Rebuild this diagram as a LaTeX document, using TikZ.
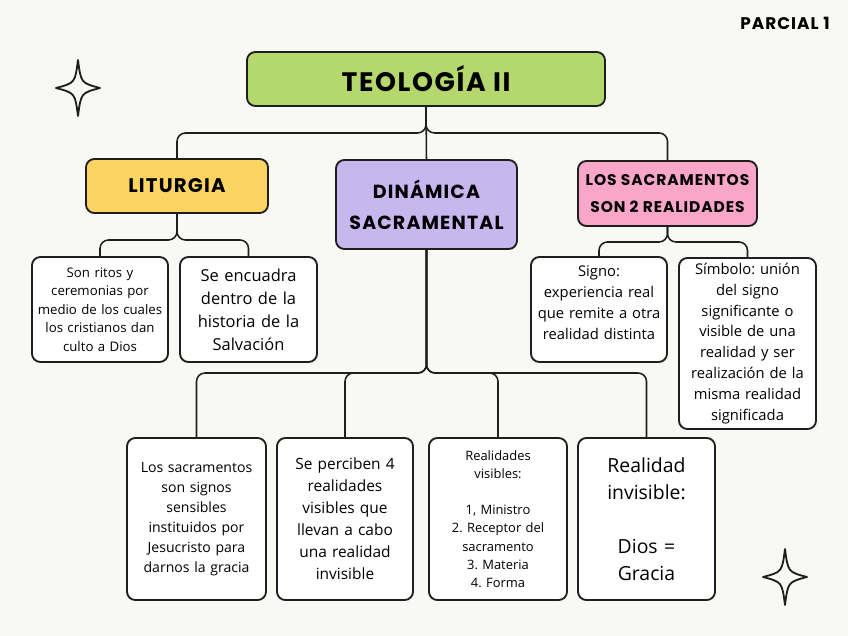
\documentclass[tikz,border=0pt]{standalone}
\usepackage{fontspec}
\setmainfont{Open Sans}
\newfontfamily\headfont[LetterSpace=6]{Poppins}
\newcommand{\fs}[2]{\fontsize{#1}{#2}\selectfont}
\frenchspacing

\definecolor{paper}{HTML}{F8F8F5}
\definecolor{teogreen}{HTML}{B4D76E}
\definecolor{lityellow}{HTML}{FCD462}
\definecolor{dinlilac}{HTML}{C8B6EE}
\definecolor{sacpink}{HTML}{F9A6C8}
\definecolor{ink}{HTML}{1E1E1E}

\tikzset{
  headbox/.style={draw=ink, line width=1.3pt, rounded corners=6pt, align=center,
                  inner sep=2pt, font=\headfont\bfseries},
  textbox/.style={draw=ink, line width=1.3pt, rounded corners=6pt, fill=white,
                  align=center, inner sep=0pt, text width=3.2cm},
  link/.style={draw=ink, line width=1.1pt, rounded corners=6pt},
  sparkle/.style={draw=ink, line width=1.3pt, line join=round}
}

\begin{document}
\begin{tikzpicture}[x=0.025cm, y=-0.025cm]
    % fondo 848 x 636 px (1 px = 0.025 cm)
    \fill[paper] (0,0) rectangle (848,636);
    \useasboundingbox (0,0) rectangle (848,636);

    \node[font=\headfont\bfseries\fs{12}{14}] (parcial) at (785,23) {PARCIAL 1};

    % ===== nivel 1: titulo =====
    \node[headbox, fill=teogreen, minimum width=8.95cm, minimum height=1.35cm,
          font=\headfont\bfseries\fs{19}{22}] (teo) at (426,79) {TEOLOGÍA II};

    % ===== nivel 2: tres ramas =====
    \node[headbox, fill=lityellow, minimum width=4.55cm, minimum height=1.35cm,
          font=\headfont\bfseries\fs{14}{16}] (lit) at (177,186) {LITURGIA};
    \node[headbox, fill=dinlilac, minimum width=4.525cm, minimum height=2.225cm,
          font=\headfont\bfseries\fs{13.5}{22}] (din) at (426.5,204.5) {DINÁMICA\\SACRAMENTAL};
    \node[headbox, fill=sacpink, minimum width=4.475cm, minimum height=1.625cm,
          font=\headfont\bfseries\fs{11}{19}] (sac) at (667.5,193.5) {LOS SACRAMENTOS\\SON 2 REALIDADES};

    % ===== hojas de LITURGIA =====
    \node[textbox, minimum width=3.4cm, minimum height=2.625cm, font=\fs{9.4}{13.2}]
          (lit1) at (100,309.5) {Son ritos y\\ceremonias por\\medio de los cuales\\los cristianos dan\\culto a Dios};
    \node[textbox, minimum width=3.425cm, minimum height=2.625cm, font=\fs{11.7}{16.4}]
          (lit2) at (248.5,309.5) {Se encuadra\\dentro de la\\historia de la\\Salvación};

    % ===== hojas de LOS SACRAMENTOS =====
    % texto de sac1 pegado arriba (primera linea a 20 px del borde)
    \node[textbox, minimum width=3.4cm, minimum height=2.625cm, font=\fs{10.5}{14.9},
          text height=0.5cm, text depth=2.125cm]
          (sac1) at (599,309.5) {Signo:\\experiencia real\\que remite a otra\\realidad distinta};
    \node[textbox, minimum width=3.425cm, minimum height=4.275cm, font=\fs{10.5}{14.8}]
          (sac2) at (747.5,343.5) {Símbolo: unión\\del signo\\significante o\\visible de una\\realidad y ser\\realización de la\\misma realidad\\significada};

    % ===== hojas de DINÁMICA SACRAMENTAL =====
    \node[textbox, minimum width=3.475cm, minimum height=4.05cm, font=\fs{10}{14.2}]
          (din1) at (196.5,519) {Los sacramentos\\son signos\\sensibles\\instituidos por\\Jesucristo para\\darnos la gracia};
    \node[textbox, minimum width=3.4cm, minimum height=4.05cm, font=\fs{11}{15.6}]
          (din2) at (345,519) {Se perciben 4\\realidades\\visibles que\\llevan a cabo\\una realidad\\invisible};
    \node[textbox, minimum width=3.45cm, minimum height=4.05cm, font=\fs{9.2}{12.9}]
          (din3) at (498,519) {Realidades\\visibles:\\[12.9pt]1, Ministro\\2. Receptor del\\sacramento\\3. Materia\\4. Forma};
    \node[textbox, minimum width=3.425cm, minimum height=4.05cm, font=\fs{13.8}{19.2}]
          (din4) at (646.5,519) {Realidad\\invisible:\\[19.2pt]Dios =\\Gracia};

    % ===== conectores (llaves) =====
    \coordinate (jteo) at (426,133);
    \coordinate (jlit) at (177,240);
    \coordinate (jsac) at (667.5,242);
    \coordinate (jdin) at (426.5,373);

    \draw[link] (teo.south) -- (jteo) -| (lit.north);
    \draw[link] (teo.south) -- (jteo) -| (sac.north);
    \draw[link] (teo.south) -- (din.north);

    \foreach \leaf in {lit1, lit2}
      \draw[link] (lit.south) -- (jlit) -| (\leaf.north);
    \foreach \leaf in {sac1, sac2}
      \draw[link] (sac.south) -- (jsac) -| (\leaf.north);
    \foreach \leaf in {din1, din2, din3, din4}
      \draw[link] (din.south) -- (jdin) -| (\leaf.north);

    % ===== estrellas =====
    \foreach \sx/\sy in {78/88, 785/577} {
      \draw[sparkle] (\sx,\sy-28) .. controls (\sx+3,\sy-5) .. (\sx+22,\sy)
                               .. controls (\sx+3,\sy+5) .. (\sx,\sy+28)
                               .. controls (\sx-3,\sy+5) .. (\sx-22,\sy)
                               .. controls (\sx-3,\sy-5) .. cycle;
    }

  \end{tikzpicture}
\end{document}
